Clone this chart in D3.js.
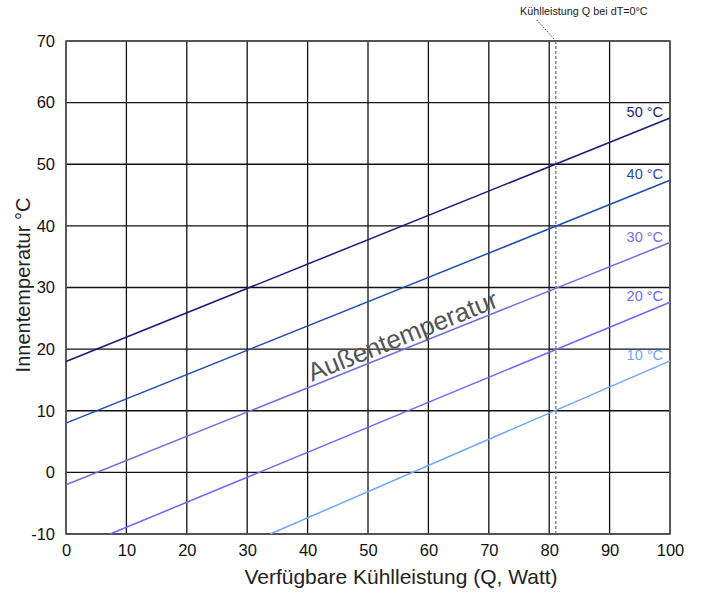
<!DOCTYPE html>
<html>
<head>
<meta charset="utf-8">
<script src="https://cdn.jsdelivr.net/npm/d3@7"></script>
<style>
  body { margin: 0; background: #fff; }
  svg { display: block; font-family: "Liberation Sans", Arial, sans-serif; }
</style>
</head>
<body>
<div id="chart"></div>
<script>
// Kühlleistung vs. Innentemperatur, eine Linie je Außentemperatur
const X_TICKS = [0, 10, 20, 30, 40, 50, 60, 70, 80, 90, 100];
const Y_TICKS = [-10, 0, 10, 20, 30, 40, 50, 60, 70];

const SERIES = ['50 °C', '40 °C', '30 °C', '20 °C', '10 °C'];
const COLORS = ['#1a1a7a', '#1e4db0', '#7070e0', '#6a6aff', '#6ea8ff'];
// [Q, T_innen] Endpunkte je Linie (innerhalb des Plotbereichs)
const LINE_50 = [[0, 18], [100, 57.5]];
const LINE_40 = [[0, 8], [100, 47.4]];
const LINE_30 = [[0, -2], [100, 37.3]];
const LINE_20 = [[7.3, -10], [100, 27.6]];
const LINE_10 = [[33.8, -10], [100, 18.1]];
const LINES = [LINE_50, LINE_40, LINE_30, LINE_20, LINE_10];

const Q_DT0 = 81.1;   // Kühlleistung Q bei dT=0°C

const W = 705, H = 594;
const MARGIN = { top: 41, right: 35, bottom: 60, left: 66 };
const innerW = W - MARGIN.left - MARGIN.right;
const innerH = H - MARGIN.top - MARGIN.bottom;
const FONT = '"Liberation Sans", Arial, sans-serif';

const svg = d3.select('#chart').append('svg')
  .attr('width', W).attr('height', H);

const x = d3.scaleLinear().domain([0, 100]).range([0, innerW]);
const y = d3.scaleLinear().domain([-10, 70]).range([innerH, 0]);

const g = svg.append('g').attr('transform', `translate(${MARGIN.left},${MARGIN.top})`);

// Grid
g.append('g').selectAll('line.v')
  .data(X_TICKS)
  .join('line')
  .attr('x1', d => x(d)).attr('x2', d => x(d))
  .attr('y1', 0).attr('y2', innerH)
  .attr('stroke', '#111').attr('stroke-width', 1.3);

g.append('g').selectAll('line.h')
  .data(Y_TICKS)
  .join('line')
  .attr('x1', 0).attr('x2', innerW)
  .attr('y1', d => y(d)).attr('y2', d => y(d))
  .attr('stroke', '#111').attr('stroke-width', 1.3);

// Frame
g.append('rect')
  .attr('width', innerW).attr('height', innerH)
  .attr('fill', 'none').attr('stroke', '#555').attr('stroke-width', 1.5);

// Axes
const xAxis = g.append('g')
  .attr('transform', `translate(0,${innerH})`)
  .call(d3.axisBottom(x).tickValues(X_TICKS).tickFormat(d => String(d)).tickSize(0).tickPadding(10));
const yAxis = g.append('g')
  .call(d3.axisLeft(y).tickValues(Y_TICKS).tickFormat(d => String(d)).tickSize(0).tickPadding(11));
[xAxis, yAxis].forEach(a => {
  a.select('.domain').remove();
  a.selectAll('text')
    .attr('font-family', FONT)
    .attr('font-size', 16.5)
    .attr('fill', '#111');
});

// dT=0 marker
g.append('line')
  .attr('x1', x(Q_DT0)).attr('x2', x(Q_DT0))
  .attr('y1', 0).attr('y2', innerH)
  .attr('stroke', '#777').attr('stroke-width', 1.3)
  .attr('stroke-dasharray', '3,2');
g.append('line')
  .attr('x1', x(Q_DT0) - 19).attr('y1', -21)
  .attr('x2', x(Q_DT0)).attr('y2', 0)
  .attr('stroke', '#444').attr('stroke-width', 1)
  .attr('stroke-dasharray', '1.5,1.5');
g.append('text')
  .attr('x', x(Q_DT0) + 28).attr('y', -26)
  .attr('text-anchor', 'middle')
  .attr('font-size', 10.8)
  .attr('fill', '#222')
  .text('Kühlleistung Q bei dT=0°C');

// Lines
const line = d3.line().x(d => x(d[0])).y(d => y(d[1]));
g.append('g').selectAll('path')
  .data(LINES)
  .join('path')
  .attr('d', line)
  .attr('fill', 'none')
  .attr('stroke', (d, i) => COLORS[i])
  .attr('stroke-width', 1.5);

// Series labels at right end
g.append('g').selectAll('text')
  .data(LINES)
  .join('text')
  .attr('x', x(100) - 7)
  .attr('y', d => y(d[d.length - 1][1]) - 1)
  .attr('text-anchor', 'end')
  .attr('font-size', 14.5)
  .attr('fill', (d, i) => COLORS[i])
  .text((d, i) => SERIES[i]);

// "Außentemperatur" along the 30 °C line
const p0 = LINE_30[0], p1 = LINE_30[1];
const angle = Math.atan2(y(p1[1]) - y(p0[1]), x(p1[0]) - x(p0[0])) * 180 / Math.PI;
const qMid = 56.5;
const tMid = p0[1] + (p1[1] - p0[1]) * (qMid - p0[0]) / (p1[0] - p0[0]);
g.append('text')
  .attr('transform', `translate(${x(qMid)},${y(tMid)}) rotate(${angle})`)
  .attr('y', -4)
  .attr('text-anchor', 'middle')
  .attr('font-size', 26)
  .attr('fill', '#555')
  .text('Außentemperatur');

// Axis titles
svg.append('text')
  .attr('x', 401).attr('y', H - 10)
  .attr('text-anchor', 'middle')
  .attr('font-size', 21)
  .attr('fill', '#222')
  .text('Verfügbare Kühlleistung (Q, Watt)');

svg.append('text')
  .attr('transform', `translate(30,285) rotate(-90)`)
  .attr('text-anchor', 'middle')
  .attr('font-size', 20)
  .attr('fill', '#222')
  .text('Innentemperatur °C');
</script>
</body>
</html>
